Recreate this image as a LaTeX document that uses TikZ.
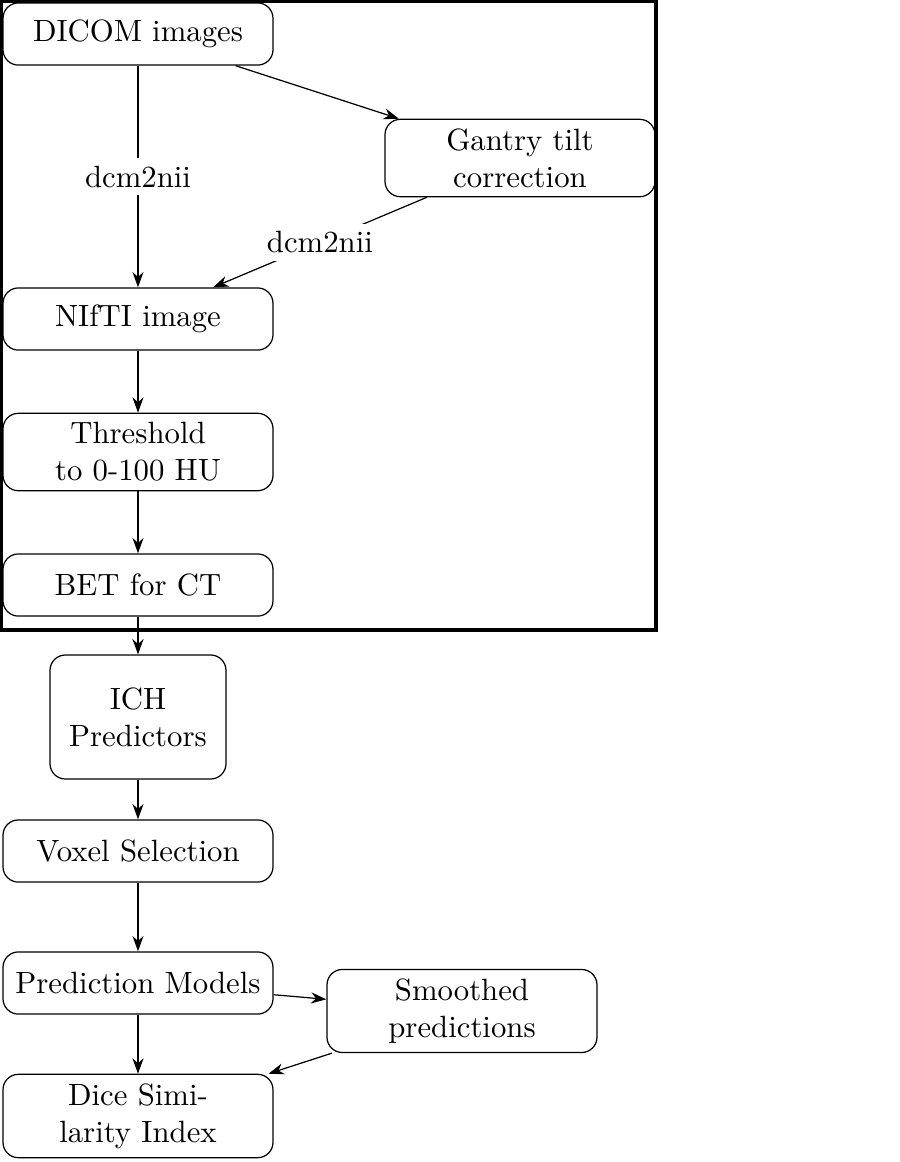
\documentclass[tikz,border=0pt]{standalone}
\usepackage{tikz}
\usetikzlibrary{arrows.meta, positioning}

\begin{document}
\begin{tikzpicture}[
    x=0.325pt, y=-0.325pt,
    stepbox/.style={draw, rounded corners=5pt, minimum width=87.75pt, minimum height=20.2pt, inner sep=3pt, align=center},
    ichbox/.style={draw, rounded corners=5pt, minimum width=57.2pt, minimum height=40.3pt, align=center},
    edgelabel/.style={fill=white, inner sep=2.5pt},
    flow/.style={-{Stealth[length=5pt, width=3.6pt]}}
]
    \useasboundingbox (0,0) rectangle (900,1162);

    % Preprocessing steps (inside the frame)
    \node[stepbox] (dicom) at (138, 34) {DICOM images};
    \node[stepbox] (gantry) at (520, 158) {Gantry tilt\\correction};
    \node[stepbox] (nifti) at (138, 319) {NIfTI image};
    \node[stepbox] (thresh) at (138, 452) {Threshold\\to 0-100 HU};
    \node[stepbox] (bet) at (138, 585) {BET for CT};

    % Frame round the preprocessing
    \draw[line width=1pt] (1, 1) rectangle (656, 630);

    % Modelling steps (below)
    \node[ichbox] (ich) at (138, 717) {ICH\\Predictors};
    \node[stepbox] (voxel) at (138, 851) {Voxel Selection};
    \node[stepbox] (pred) at (138, 983) {Prediction Models};
    \node[stepbox] (smooth) at (462, 1011) {Smoothed\\predictions};
    \node[stepbox] (dice) at (138, 1116) {Dice Simi-\\larity Index};

    % Connections - preprocessing
    \draw[flow] (dicom) -- node[edgelabel] {dcm2nii} (nifti);
    \draw[flow] (dicom) -- (gantry);
    \draw[flow] (gantry) -- node[edgelabel] {dcm2nii} (nifti);
    \draw[flow] (nifti) -- (thresh);
    \draw[flow] (thresh) -- (bet);
    \draw[flow] (bet) -- (ich);

    % Connections - modelling
    \draw[flow] (ich) -- (voxel);
    \draw[flow] (voxel) -- (pred);
    \draw[flow] (pred) -- (dice);
    \draw[flow] (pred) -- (smooth);
    \draw[flow] (smooth) -- (dice);

\end{tikzpicture}
\end{document}
